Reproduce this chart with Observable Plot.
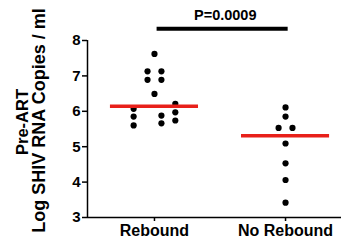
<!DOCTYPE html>
<html>
<head>
<meta charset="utf-8">
<script src="https://cdn.jsdelivr.net/npm/d3@7"></script>
<script src="https://cdn.jsdelivr.net/npm/@observablehq/plot@0.6"></script>
<style>
  html, body { margin: 0; padding: 0; background: #fff; }
</style>
</head>
<body>
<div id="chart"></div>
<script>
const categories = ["Rebound", "No Rebound"];
const reboundValues = [7.62, 7.13, 7.13, 6.89, 6.89, 6.49, 6.07, 5.85, 5.60, 5.88, 5.66, 6.21, 5.97, 5.74];
const reboundSlots  = [0, -1, 1, -1, 1, 0, -3, -3, -3, 1, 1, 3, 3, 3];
const noReboundValues = [6.11, 5.85, 5.53, 5.53, 5.09, 4.53, 4.06, 3.42];
const noReboundSlots  = [0, 0, -1, 1, 0, 0, 0, 0];
const yTicks = [3, 4, 5, 6, 7, 8];
const pLabel = "P=0.0009";
const yTitleLines = ["Pre-ART", "Log SHIV RNA Copies / ml"];

const slotStep = 0.053;
const points = [
  ...reboundValues.map((v, i) => ({group: 1, slot: reboundSlots[i], value: v})),
  ...noReboundValues.map((v, i) => ({group: 2, slot: noReboundSlots[i], value: v}))
];
const medians = [
  {group: 1, value: d3.median(reboundValues)},
  {group: 2, value: d3.median(noReboundValues)}
];
const xMin = 0.489, xMax = 2.427;
const font = "Arial, 'Liberation Sans', sans-serif";

const chart = Plot.plot({
  width: 342,
  height: 249,
  marginTop: 40,
  marginBottom: 32,
  marginLeft: 87,
  marginRight: 1,
  style: {fontFamily: font, background: "#fff", color: "#000"},
  x: {type: "linear", domain: [xMin, xMax], axis: null},
  y: {domain: [3, 8], axis: null},
  marks: [
    Plot.axisY({ticks: yTicks, tickFormat: d3.format("d"), tickSize: 5, tickPadding: 2, fontSize: 15, fontWeight: "bold", strokeWidth: 1.5, label: null}),
    Plot.axisX({ticks: [1, 2], tickFormat: d => categories[d - 1], tickSize: 4, tickPadding: 3, fontSize: 16, fontWeight: "bold", strokeWidth: 1.5, label: null}),
    Plot.ruleX([xMin], {y1: 3, y2: 8, stroke: "#000", strokeWidth: 1.5}),
    Plot.ruleY([3], {x1: xMin, x2: xMax, stroke: "#000", strokeWidth: 1.5}),
    Plot.dot(points, {x: d => d.group + d.slot * slotStep, y: "value", r: 3.1, fill: "#000", stroke: null}),
    Plot.ruleY(medians, {y: "value", x1: d => d.group - 0.336, x2: d => d.group + 0.336, stroke: "#e8201a", strokeWidth: 3.5}),
    Plot.ruleY([8.33], {x1: 1.02, x2: 2.02, stroke: "#000", strokeWidth: 4}),
    Plot.text([pLabel], {x: 1.54, y: 8.72, text: d => d, fontSize: 14.5, fontWeight: "bold", fill: "#000"}),
    Plot.text([yTitleLines[0]], {frameAnchor: "left", textAnchor: "middle", text: d => d, rotate: -90, dx: -65, dy: -7, fontSize: 16.5, fontWeight: "bold", fill: "#000"}),
    Plot.text([yTitleLines[1]], {frameAnchor: "left", textAnchor: "middle", text: d => d, rotate: -90, dx: -48.5, dy: -8.5, fontSize: 18, fontWeight: "bold", fill: "#000"})
  ]
});
document.getElementById("chart").appendChild(chart);
</script>
</body>
</html>
